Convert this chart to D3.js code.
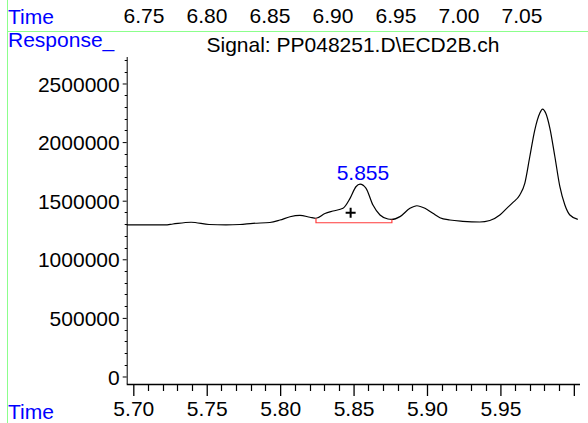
<!DOCTYPE html>
<html>
<head>
<meta charset="utf-8">
<script src="https://cdn.jsdelivr.net/npm/d3@7"></script>
<style>
  body { margin: 0; background: #fff; }
  svg { display: block; }
  text { font-family: "Liberation Sans", Arial, sans-serif; font-size: 21px; }
</style>
</head>
<body>
<div id="chart"></div>
<script>
(function () {
  // retention time (min) and detector response
  const retTimes = [5.6955, 5.7114, 5.7216, 5.727, 5.7393, 5.7516, 5.7631, 5.7726, 5.7815, 5.793,
    5.7999, 5.8067, 5.8135, 5.8203, 5.8244, 5.8305, 5.836, 5.8428, 5.8476, 5.8516,
    5.8544, 5.8584, 5.8632, 5.868, 5.8734, 5.8761, 5.8816, 5.8884, 5.8931, 5.8986,
    5.904, 5.9088, 5.9156, 5.9244, 5.936, 5.9428, 5.9496, 5.9543, 5.9584, 5.9632,
    5.9666, 5.97, 5.9734, 5.9768, 5.9787, 5.9809, 5.9837, 5.9871, 5.9905, 5.9939,
    5.9973, 6.0027];
  const responses = [1293000, 1293000, 1293000, 1301000, 1316000, 1297000, 1293000, 1297000, 1307000, 1314000,
    1335000, 1363000, 1374000, 1359000, 1350000, 1391000, 1412000, 1435000, 1520000, 1619000,
    1642000, 1608000, 1463000, 1378000, 1344000, 1340000, 1364000, 1435000, 1457000, 1435000,
    1392000, 1355000, 1335000, 1324000, 1318000, 1331000, 1378000, 1435000, 1483000, 1549000,
    1648000, 1875000, 2103000, 2246000, 2282000, 2246000, 2118000, 1875000, 1619000, 1463000,
    1378000, 1341000];

  const xTicks = [5.70, 5.75, 5.80, 5.85, 5.90, 5.95, 6.00];
  const xLabels = ["5.70", "5.75", "5.80", "5.85", "5.90", "5.95", ""];
  const yTicks = [0, 500000, 1000000, 1500000, 2000000, 2500000];
  const topTimes = [6.75, 6.80, 6.85, 6.90, 6.95, 7.00, 7.05];

  // integrated peak
  const peakLabel = "5.855";
  const peakTime = 5.855;
  const peakTop = 1642000;
  const intStart = [5.8244, 1350000];
  const intEnd = [5.8761, 1340000];
  const intBase = 1312000;
  const markTime = 5.848, markValue = 1398000;

  const width = 588, height = 423;
  const svg = d3.select("#chart").append("svg").attr("width", width).attr("height", height);

  const x = d3.scaleLinear().domain([5.6955, 6.0042]).range([126.7, 580]);
  const y = d3.scaleLinear().domain([-64000, 2726000]).range([384, 57]);
  const xTop = d3.scaleLinear().domain([6.75, 7.05]).range([144, 522]);

  // green frame lines
  svg.append("line").attr("x1", 7.5).attr("x2", 7.5).attr("y1", 0).attr("y2", height)
    .attr("stroke", "#8cff8c").attr("stroke-width", 1);
  svg.append("line").attr("x1", 7.5).attr("x2", width).attr("y1", 31.5).attr("y2", 31.5)
    .attr("stroke", "#8cff8c").attr("stroke-width", 1);

  // top time row (previous panel's axis)
  svg.append("text").attr("x", 8).attr("y", 24).attr("fill", "#0000ff").text("Time");
  svg.selectAll(".top-label").data(topTimes).enter().append("text")
    .attr("class", "top-label")
    .attr("x", d => xTop(d)).attr("y", 23)
    .attr("text-anchor", "middle").attr("fill", "#000")
    .text(d => d3.format(".2f")(d));

  svg.append("text").attr("x", 8).attr("y", 47).attr("fill", "#0000ff").text("Response_");
  svg.append("text").attr("x", 353).attr("y", 52).attr("text-anchor", "middle")
    .attr("fill", "#000").text("Signal: PP048251.D\\ECD2B.ch");

  // y axis
  const yAxis = d3.axisLeft(y).tickValues(yTicks).tickSize(4).tickFormat(d3.format("d"));
  const gy = svg.append("g").attr("transform", "translate(126.7,0)").call(yAxis);
  gy.select(".domain").attr("d", "M0.5," + y.range()[1] + "V" + y.range()[0]);
  gy.selectAll("text").attr("font-size", 21).attr("font-family", null).attr("x", -7).attr("dy", "0.36em");
  const yMinor = d3.range(0, 2800000, 100000).filter(v => v % 500000 !== 0 && v <= y.domain()[1]);
  svg.selectAll(".ymin").data(yMinor).enter().append("line")
    .attr("class", "ymin")
    .attr("x1", 124.7).attr("x2", 127.2)
    .attr("y1", d => Math.round(y(d)) + 0.5).attr("y2", d => Math.round(y(d)) + 0.5)
    .attr("stroke", "#000");

  // x axis
  const xAxis = d3.axisBottom(x).tickValues(xTicks).tickSize(12).tickFormat((d, i) => xLabels[i]);
  const gx = svg.append("g").attr("transform", "translate(0,384)").call(xAxis);
  gx.select(".domain").attr("d", "M" + x.range()[0] + ",0.5H" + x.range()[1]).attr("stroke-width", 1.3);
  gx.selectAll(".tick line").attr("stroke-width", 1.3);
  gx.selectAll("text").attr("font-size", 21).attr("font-family", null).attr("y", 17).attr("dy", "0.71em");
  const xMinor = d3.range(0, 31).map(i => 5.70 + i * 0.01).filter((v, i) => i % 5 !== 0);
  svg.selectAll(".xmin").data(xMinor).enter().append("line")
    .attr("class", "xmin")
    .attr("x1", d => Math.round(x(d)) + 0.5).attr("x2", d => Math.round(x(d)) + 0.5)
    .attr("y1", 384).attr("y2", 391)
    .attr("stroke", "#000").attr("stroke-width", 1.2);

  svg.append("text").attr("x", 8).attr("y", 419).attr("fill", "#0000ff").text("Time");

  // signal trace
  const pts = retTimes.map((t, i) => [t, responses[i]]);
  const line = d3.line().x(d => x(d[0])).y(d => y(d[1])).curve(d3.curveMonotoneX);
  svg.append("path").datum(pts).attr("d", line)
    .attr("fill", "none").attr("stroke", "#000").attr("stroke-width", 1.2);

  // integration baseline
  const base = [intStart, [intStart[0], intBase], [intEnd[0], intBase], intEnd];
  svg.append("path").datum(base)
    .attr("d", d3.line().x(d => x(d[0])).y(d => y(d[1])))
    .attr("fill", "none").attr("stroke", "#ff3b3b").attr("stroke-width", 1.2);

  // peak marker and label
  const mx = x(markTime), my = y(markValue);
  svg.append("path").attr("d", `M${mx - 5},${my}H${mx + 5}M${mx},${my - 5}V${my + 5}`)
    .attr("stroke", "#000").attr("stroke-width", 2);
  svg.append("text").attr("x", x(peakTime) + 2).attr("y", y(peakTop) - 4)
    .attr("text-anchor", "middle").attr("fill", "#0000ff").text(peakLabel);
})();
</script>
</body>
</html>
